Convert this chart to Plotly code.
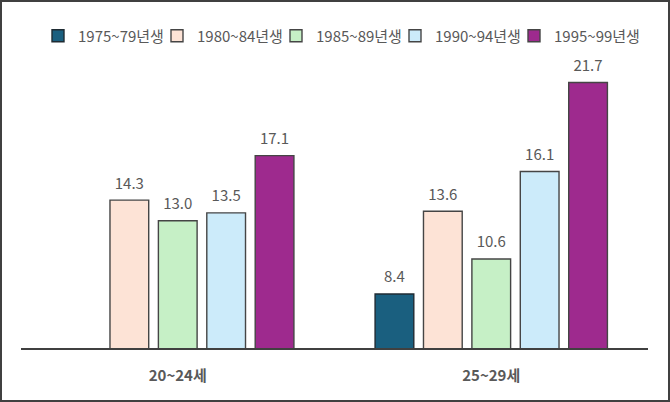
import plotly.graph_objects as go

# data
age_groups = ["20~24세", "25~29세"]
cohorts = ["1975~79년생", "1980~84년생", "1985~89년생", "1990~94년생", "1995~99년생"]
values = {
    "1975~79년생": [None, 8.4],   # 20~24: below the axis floor, no label shown
    "1980~84년생": [14.3, 13.6],
    "1985~89년생": [13.0, 10.6],
    "1990~94년생": [13.5, 16.1],
    "1995~99년생": [17.1, 21.7],
}
colors = ["#1A5F7F", "#FDE3D6", "#C6F0C6", "#CCEBFA", "#9E2A8E"]
outlines = ["#1f2b33", "#454545", "#454545", "#454545", "#454545"]

W, H = 670, 402
M = dict(l=21, r=22, t=30, b=54)
GAP = 0.228
TEXT = "#595959"
FONT = "Noto Sans CJK KR, Noto Sans, sans-serif"

pw = W - M["l"] - M["r"]
ph = H - M["t"] - M["b"]
LEG_LEFT = 38      # px, left edge of first legend box
LEG_STEP = 119     # px between legend entries

fig = go.Figure()

# one legend per entry so every entry keeps a fixed step and no text gets clipped
leg_ids = ["legend"] + [f"legend{i + 1}" for i in range(1, len(cohorts))]

for name, col, edge, leg in zip(cohorts, colors, outlines, leg_ids):
    fig.add_trace(go.Bar(
        x=age_groups,
        y=values[name],
        name=name,
        legend=leg,
        marker=dict(color=col, line=dict(color=edge, width=1.4)),
    ))

# value labels sit a bit higher than the bar "outside" text, so use grouped scatter text
for name in cohorts:
    vals = values[name]
    fig.add_trace(go.Scatter(
        x=age_groups,
        y=vals,
        mode="markers+text",
        text=[f"{v:.1f}" if v is not None else "" for v in vals],
        textposition="top center",
        textfont=dict(size=15, color=TEXT, family=FONT),
        marker=dict(size=11, opacity=0),
        showlegend=False,
        hoverinfo="skip",
        cliponaxis=False,
    ))

# outer frame of the chart
fig.add_shape(
    type="rect", xref="paper", yref="paper",
    x0=-(M["l"] - 1) / pw, x1=1 + (M["r"] - 1) / pw,
    y0=-(M["b"] - 1) / ph, y1=1 + (M["t"] - 1) / ph,
    line=dict(color="#404040", width=2),
)

legends = {}
for i, leg in enumerate(leg_ids):
    legends[leg] = dict(
        orientation="h",
        x=(LEG_LEFT + i * LEG_STEP - M["l"]) / pw, xanchor="left",
        y=1 - 6 / ph, yanchor="middle",
        font=dict(size=15, color=TEXT, family=FONT),
        itemclick=False,
        bgcolor="rgba(0,0,0,0)",
    )

fig.update_layout(
    width=W, height=H,
    margin=M,
    paper_bgcolor="white",
    plot_bgcolor="white",
    barmode="group",
    bargap=GAP,
    bargroupgap=0.2,
    scattermode="group",
    scattergap=GAP,
    font=dict(family=FONT, color=TEXT),
    xaxis=dict(
        showline=True, linecolor="#404040", linewidth=2,
        showgrid=False, ticks="",
        tickfont=dict(size=15, color=TEXT, family=FONT, weight="bold"),
        ticklabelstandoff=13,
    ),
    yaxis=dict(range=[5, 25], visible=False, showgrid=False, zeroline=False),
    **legends,
)

fig.write_html(
    "out.html",
    config={"displayModeBar": False},
    post_script="document.body.style.margin='0';document.body.style.overflow='hidden';",
)
